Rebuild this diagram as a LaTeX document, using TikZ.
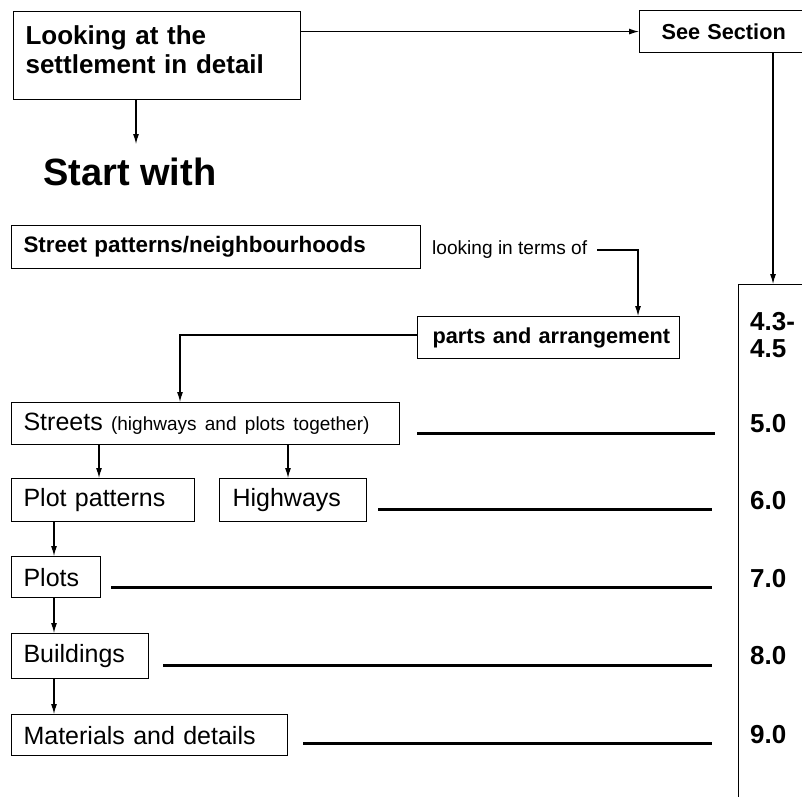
\documentclass[tikz,border=0pt]{standalone}
\usepackage{fontspec}
\setmainfont{Liberation Sans}
\usetikzlibrary{arrows.meta}
\newcommand{\padt}[2]{\hyphenpenalty=10000\leftskip=#1\relax #2\par}
\begin{document}
\begin{tikzpicture}[x=1pt,y=-1pt,
  box/.style={draw,line width=1.1pt,anchor=north west,inner sep=0pt,align=left},
  arr/.style={line width=1.1pt,-{Latex[length=10pt,width=6pt]}},
  uline/.style={line width=3pt},
  reg/.style={font=\fontsize{25}{28}\selectfont},
  num/.style={anchor=west,inner sep=0pt,font=\fontsize{26}{28}\selectfont\bfseries}]
\useasboundingbox (0,0) rectangle (802,796);

% top boxes
\node[box,minimum height=88pt,text width=287pt,font=\fontsize{26}{29}\selectfont\bfseries] (look) at (13,11) {\padt{12pt}{Looking at the\\settlement in detail\rule[-11pt]{0pt}{1pt}}};
\node[box,minimum height=42pt,text width=200pt,font=\fontsize{21.7}{24}\selectfont\bfseries] (see) at (639,10) {\padt{22pt}{See Section}};
\node[draw,line width=1.1pt,anchor=north west,minimum width=120pt,minimum height=600pt,inner sep=0pt] (sec) at (738,284) {};

\draw[arr] (look.east |- see.west) -- (see.west);
\draw[arr] ([xshift=134pt]see.south west) -- ([xshift=35pt]sec.north west);

\node[anchor=base west,inner sep=0pt,font=\fontsize{38}{40}\selectfont\bfseries] (start) at (43,185) {Start with};
\coordinate (sa) at (136,144);
\draw[arr] ([xshift=123pt]look.south west) -- (sa);

% street patterns
\node[box,minimum height=43pt,text width=409pt,font=\fontsize{22.4}{25}\selectfont\bfseries] (street) at (11,225) {\padt{12pt}{Street patterns/neighbourhoods}};
\node[anchor=west,inner sep=0pt,font=\fontsize{19.1}{21}\selectfont] (lk) at (432,250) {looking in terms of};
\node[box,minimum height=42pt,text width=262pt,font=\fontsize{21.7}{24}\selectfont\bfseries] (parts) at (417,316) {\padt{15pt}{parts and arrangement}};

% level boxes
\node[box,minimum height=42pt,text width=388pt,reg] (streets) at (11,402) {\padt{12pt}{Streets {\fontsize{19}{22}\selectfont (highways and plots together)}}};
\node[box,minimum height=43pt,text width=183pt,reg] (plotpat) at (11,478) {\padt{12pt}{Plot patterns}};
\node[box,minimum height=43pt,text width=147pt,reg] (high) at (219,478) {\padt{13pt}{Highways}};
\node[box,minimum height=41pt,text width=89pt,reg] (plots) at (11,556) {\padt{12pt}{Plots}};
\node[box,minimum height=45pt,text width=137pt,reg] (build) at (11,633) {\padt{12pt}{Buildings}};
\node[box,minimum height=41pt,text width=276pt,reg] (mat) at (11,714) {\padt{12pt}{Materials and details}};

\draw[arr] ([xshift=10pt]lk.east) -| ([xshift=221pt]parts.north west);
\draw[arr] ([yshift=-19pt]parts.north west) -| ([xshift=169pt]streets.north west);
\draw[arr] ([xshift=88pt]streets.south west) -- ([xshift=88pt]plotpat.north west);
\draw[arr] ([xshift=277pt]streets.south west) -- ([xshift=69pt]high.north west);
\draw[arr] ([xshift=43pt]plotpat.south west) -- ([xshift=43pt]plots.north west);
\draw[arr] ([xshift=43pt]plots.south west) -- ([xshift=43pt]build.north west);
\draw[arr] ([xshift=43pt]build.south west) -- ([xshift=43pt]mat.north west);

% underscore lines
\draw[uline] (417,433) -- (715,433);
\draw[uline] (378,509) -- (712,509);
\draw[uline] (111,587) -- (712,587);
\draw[uline] (163,665) -- (712,665);
\draw[uline] (303,743) -- (712,743);

% section numbers
\node[num] (n43) at (750,322) {4.3-};
\node[num] (n45) at (750,349) {4.5};
\node[num] (n5) at (750,424) {5.0};
\node[num] (n6) at (750,501) {6.0};
\node[num] (n7) at (750,579) {7.0};
\node[num] (n8) at (750,656) {8.0};
\node[num] (n9) at (750,735) {9.0};
\end{tikzpicture}
\end{document}
